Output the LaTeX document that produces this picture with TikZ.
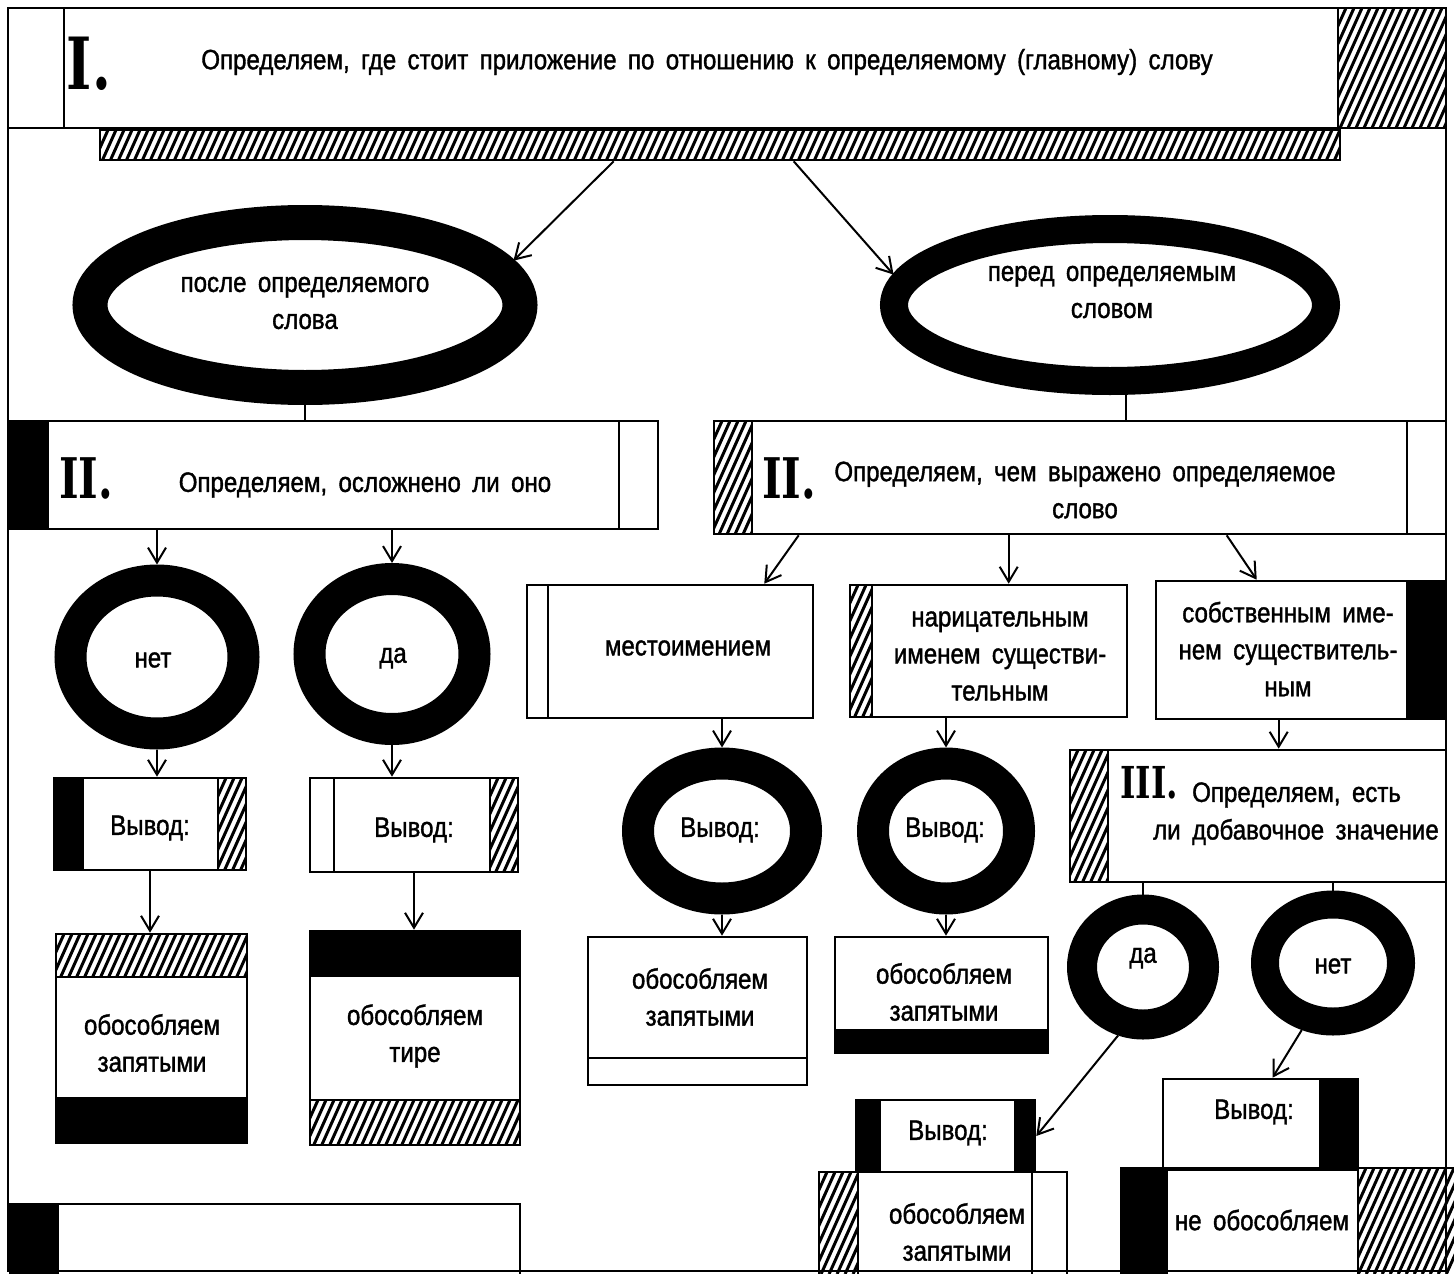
\documentclass[tikz,border=0pt]{standalone}
\usepackage{fontspec}
\setmainfont{Liberation Sans}[FakeStretch=0.86,WordSpace=1.7,FakeBold=1.3]
\newfontfamily\numfont{DejaVu Serif}[FakeStretch=0.75]
\usetikzlibrary{arrows.meta,shapes.geometric,calc}
\newcommand\hatchrect[4]{%
  \begin{scope}
    \clip (#1,#2) rectangle (#3,#4);
    \pgfmathsetmacro\hh{#4-#2}%
    \pgfmathsetmacro\hstart{#1-0.45*\hh}%
    \pgfmathsetmacro\hnext{\hstart+8}%
    \foreach \xx in {\hstart,\hnext,...,#3} {\draw[hatchln] (\xx,#4) -- ++({0.45*\hh},{-\hh});}
  \end{scope}}
\newcommand\pbox[6][]{\node[cell,minimum width={#5-#3},minimum height={#6-#4},#1] (#2) at ({(#3+#5)/2},{(#4+#6)/2}) {};}
\begin{document}
\begin{tikzpicture}[x=1pt,y=-1pt,
  lw/.style={line width=2.6pt},
  cell/.style={draw,rectangle,line width=2.6pt,inner sep=0pt},
  txt/.style={font=\fontsize{28}{37}\selectfont,align=center,inner sep=0pt},
  num/.style={font=\numfont\bfseries\fontsize{#1}{#1}\selectfont,inner sep=0pt},
  ring/.style={ellipse,draw,line width=#1,inner sep=0pt},
  arr/.style={-{Straight Barb[length=15pt,width=18pt]},line width=2pt},
  stub/.style={line width=2pt},
  hatchln/.style={line width=3pt}]
\path[use as bounding box] (0,0) rectangle (1454,1274);
\clip (0,0) rectangle (1454,1274);
% ---------- fills ----------
\hatchrect{1338}{8}{1446}{128}
\hatchrect{100}{130}{1340}{160}
\fill (10,421) rectangle (49,529);
\hatchrect{714}{421}{752}{534}
\fill (54,778) rectangle (83,870);
\hatchrect{218}{778}{246}{870}
\hatchrect{490}{778}{518}{872}
\hatchrect{56}{934}{247}{977}
\fill (56,1098) rectangle (247,1143);
\fill (310,931) rectangle (520,976);
\hatchrect{310}{1100}{520}{1145}
\fill (10,1204) rectangle (58,1274);
\hatchrect{850}{585}{872}{717}
\fill (1407,581) rectangle (1446,719);
\fill (835,1030) rectangle (1048,1053);
\hatchrect{1070}{750}{1108}{882}
\fill (856,1100) rectangle (880,1172);
\fill (1015,1100) rectangle (1035,1172);
\hatchrect{819}{1172}{858}{1274}
\fill (1320,1079) rectangle (1358,1170);
\fill (1121,1168) rectangle (1167,1274);
\hatchrect{1358}{1168}{1454}{1274}
% ---------- frame ----------
\draw[lw] (8,8) rectangle (1446,1271);
% ---------- box I ----------
\pbox{boxI}{8}{8}{1338}{128}
\draw[lw] (64,8) -- (64,128);
\draw[lw] (1338,8) rectangle (1446,128);
\node[num=72] (nI) at (89,64) {I.};
\node[txt] (tI) at (707,62) {Определяем, где стоит приложение по отношению к определяемому (главному) слову};
\pbox{bar}{100}{130}{1340}{160}
% ---------- ellipses ----------
\node[ring=35pt,minimum width=430,minimum height=165] (after) at (305,305) {};
\node[txt] (tafter) at (305,303) {после определяемого\\слова};
\node[ring=28pt,minimum width=432,minimum height=152] (before) at (1110,305) {};
\node[txt] (tbefore) at (1112,292) {перед определяемым\\словом};
% ---------- II boxes ----------
\pbox{IIa}{10}{421}{658}{529}
\draw[lw] (619,421) -- (619,529);
\node[num=56] (nIIa) at (86,478) {II.};
\node[txt] (tIIa) at (365,485) {Определяем, осложнено ли оно};
\pbox{IIb}{714}{421}{1446}{534}
\draw[lw] (752,421) -- (752,534);
\draw[lw] (1407,421) -- (1407,534);
\node[num=56] (nIIb) at (789,478) {II.};
\node[txt] (tIIb) at (1085,490) {Определяем, чем выражено определяемое\\слово};
% ---------- left column ----------
\node[ring=32pt,minimum width=173,minimum height=153] (no1) at (157,657) {};
\node[txt] (tno1) at (153,660) {нет};
\node[ring=32pt,minimum width=165,minimum height=150] (yes1) at (392,654) {};
\node[txt] (tyes1) at (393,658) {да};
\pbox{v1}{54}{778}{246}{870}
\draw[lw] (83,778) -- (83,870);
\draw[lw] (218,778) -- (218,870);
\node[txt] (tv1) at (150,828) {Вывод:};
\pbox{v2}{310}{778}{518}{872}
\draw[lw] (334,778) -- (334,872);
\draw[lw] (490,778) -- (490,872);
\node[txt] (tv2) at (414,830) {Вывод:};
\pbox{ob1}{56}{934}{247}{1143}
\draw[lw] (56,977) -- (247,977);
\draw[lw] (56,1098) -- (247,1098);
\node[txt] (tob1) at (152,1043) {обособляем\\запятыми};
\pbox{ob2}{310}{931}{520}{1145}
\draw[lw] (310,976) -- (520,976);
\draw[lw] (310,1100) -- (520,1100);
\node[txt] (tob2) at (415,1036) {обособляем\\тире};
\pbox{bl}{10}{1204}{520}{1300}
\draw[lw] (58,1204) -- (58,1274);
% ---------- middle ----------
\pbox{mest}{527}{585}{813}{718}
\draw[lw] (548,585) -- (548,718);
\node[txt] (tmest) at (688,648) {местоимением};
\pbox{nar}{850}{585}{1127}{717}
\draw[lw] (872,585) -- (872,717);
\node[txt] (tnar) at (1000,656) {нарицательным\\именем существи-\\тельным};
\pbox{sob}{1156}{581}{1446}{719}
\draw[lw] (1407,581) -- (1407,719);
\node[txt] (tsob) at (1288,649) {собственным име-\\нем существитель-\\ным};
\node[ring=32pt,minimum width=168,minimum height=135] (vc1) at (722,831) {};
\node[txt] (tvc1) at (720,830) {Вывод:};
\node[ring=32pt,minimum width=146,minimum height=135] (vc2) at (946,831) {};
\node[txt] (tvc2) at (945,830) {Вывод:};
\pbox{ob3}{588}{937}{807}{1085}
\draw[lw] (588,1058) -- (807,1058);
\node[txt] (tob3) at (700,997) {обособляем\\запятыми};
\pbox{ob4}{835}{937}{1048}{1053}
\draw[lw] (835,1030) -- (1048,1030);
\node[txt] (tob4) at (944,992) {обособляем\\запятыми};
% ---------- III ----------
\pbox{III}{1070}{750}{1446}{882}
\draw[lw] (1108,750) -- (1108,882);
\node[num=44] (nIII) at (1149,783) {III.};
\node[txt,anchor=west] (tIII1) at (1192,795) {Определяем, есть};
\node[txt,anchor=west] (tIII2) at (1153,832) {ли добавочное значение};
\node[ring=30pt,minimum width=122,minimum height=115] (da2) at (1143,967) {};
\node[txt] (tda2) at (1143,958) {да};
\node[ring=28pt,minimum width=136,minimum height=117] (net2) at (1333,963) {};
\node[txt] (tnet2) at (1333,966) {нет};
\pbox{v3}{856}{1100}{1035}{1172}
\draw[lw] (880,1100) -- (880,1172);
\draw[lw] (1015,1100) -- (1015,1172);
\node[txt] (tv3) at (948,1133) {Вывод:};
\pbox{ob5}{819}{1172}{1067}{1300}
\draw[lw] (858,1172) -- (858,1274);
\draw[lw] (1032,1172) -- (1032,1274);
\node[txt] (tob5) at (957,1232) {обособляем\\запятыми};
\pbox{v4}{1163}{1079}{1358}{1170}
\draw[lw] (1320,1079) -- (1320,1170);
\node[txt] (tv4) at (1254,1112) {Вывод:};
\pbox{ob6}{1121}{1168}{1460}{1300}
\draw[lw] (1167,1168) -- (1167,1274);
\draw[lw] (1358,1168) -- (1358,1274);
\node[txt] (tob6) at (1262,1220) {не обособляем};
% ---------- connectors ----------
\draw[arr] ($(bar.south west)+(515,0)$) -- (after.12);
\draw[arr] ($(bar.south west)+(695,0)$) -- (before.172);
\draw[stub] (after.south) -- (after.south |- IIa.north);
\draw[stub] (before.280) -- (before.280 |- IIb.north);
\draw[arr] (IIa.south -| no1.north) -- (no1.north);
\draw[arr] (IIa.south -| yes1.north) -- (yes1.north);
\draw[arr] (no1.south) -- (no1.south |- v1.north);
\draw[arr] (yes1.south) -- (yes1.south |- v2.north);
\draw[arr] (v1.south) -- (v1.south |- ob1.north);
\draw[arr] (v2.south) -- (v2.south |- ob2.north);
\draw[arr] ($(IIb.south west)+(86,0)$) -- ($(mest.north east)+(-50,0)$);
\draw[arr] ($(IIb.south west)+(296,0)$) -- ($(nar.north west)+(160,0)$);
\draw[arr] ($(IIb.south west)+(514,0)$) -- ($(sob.north west)+(102,0)$);
\draw[arr] (vc1.north |- mest.south) -- (vc1.north);
\draw[arr] (vc2.north |- nar.south) -- (vc2.north);
\draw[arr] ($(sob.south west)+(124,0)$) -- ($(III.north west)+(210,0)$);
\draw[arr] (vc1.south) -- (vc1.south |- ob3.north);
\draw[arr] (vc2.south) -- (vc2.south |- ob4.north);
\draw[stub] (III.south -| da2.north) -- (da2.north);
\draw[stub] (III.south -| net2.north) -- (net2.north);
\draw[arr] (da2.250) -- (v3.east);
\draw[arr] (net2.245) -- ($(v4.north)+(12,0)$);
\end{tikzpicture}
\end{document}
